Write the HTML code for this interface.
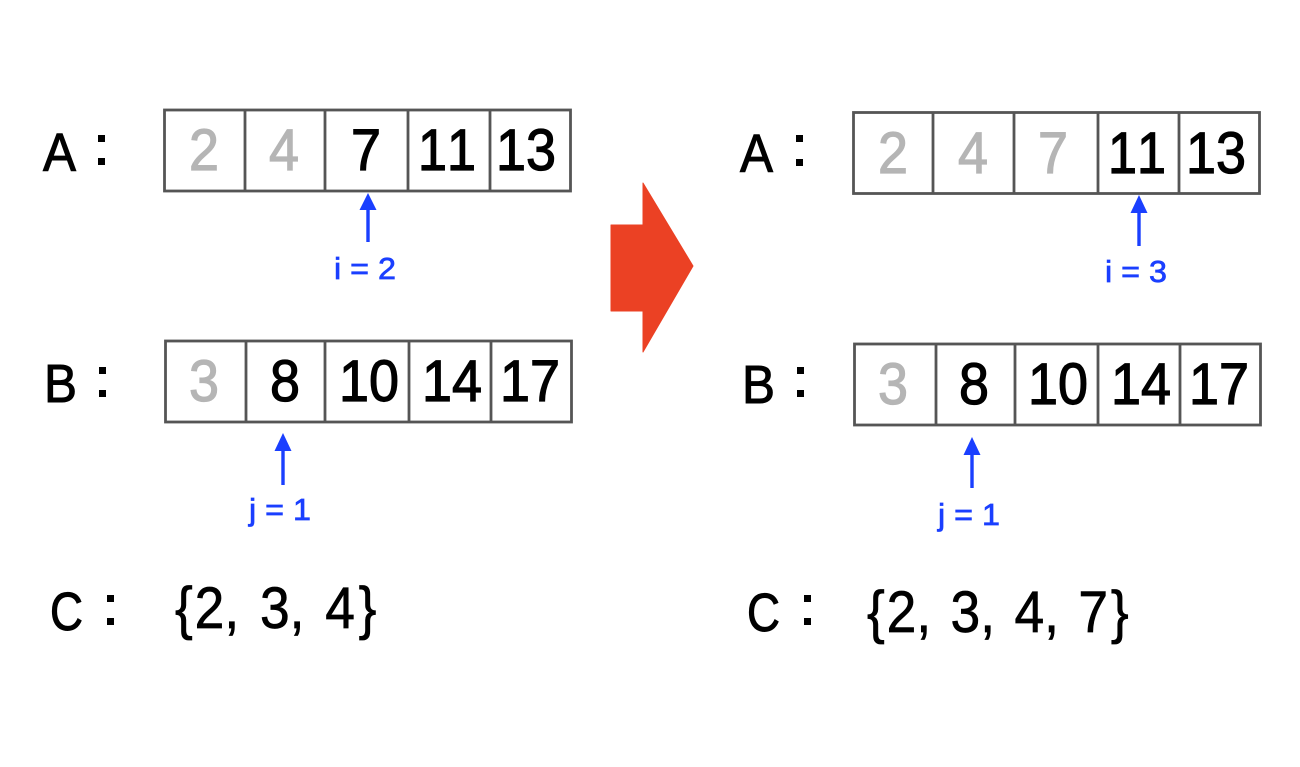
<!DOCTYPE html>
<html><head><meta charset="utf-8"><style>
html,body{margin:0;padding:0;background:#fff;width:1300px;height:767px;overflow:hidden}
svg{display:block}
text{font-family:"Liberation Sans",sans-serif;font-kerning:none}
.n{font-size:58px;text-anchor:middle;fill:#000;stroke:#000;stroke-width:1.2px}
.g{font-size:58px;text-anchor:middle;fill:#b5b5b5;stroke:#b5b5b5;stroke-width:1.2px}
.l{font-size:54px;fill:#000;stroke:#000;stroke-width:1px}
.b{font-size:31px;text-anchor:middle;fill:#1a3fff;stroke:#1a3fff;stroke-width:.7px}
.s{font-size:58px;fill:#000;stroke:#000;stroke-width:.7px;word-spacing:6.5px}
rect.box,line.d{fill:none;stroke:#555;stroke-width:2.8}
line.a{stroke:#1a3fff;stroke-width:3.4}
polygon.h{fill:#1a3fff}
rect.c{fill:#000}
</style></head><body>
<svg width="1300" height="767" viewBox="0 0 1300 767" xmlns="http://www.w3.org/2000/svg">
<rect width="1300" height="767" fill="#fff"/>

<!-- left A -->
<rect class="box" x="164.500" y="110" width="406" height="81"/>
<line class="d" x1="245" y1="110" x2="245" y2="191"/><line class="d" x1="325" y1="110" x2="325" y2="191"/><line class="d" x1="408" y1="110" x2="408" y2="191"/><line class="d" x1="490" y1="110" x2="490" y2="191"/>
<text class="g" x="204" y="170" textLength="30" lengthAdjust="spacingAndGlyphs">2</text><text class="g" x="284" y="170" textLength="30" lengthAdjust="spacingAndGlyphs">4</text><text class="n" x="366" y="170" textLength="30" lengthAdjust="spacingAndGlyphs">7</text><text class="n" x="447" y="170" textLength="58" lengthAdjust="spacingAndGlyphs">11</text><text class="n" x="526" y="170" textLength="60" lengthAdjust="spacingAndGlyphs">13</text>
<text class="l" x="43" y="171" textLength="33" lengthAdjust="spacingAndGlyphs">A</text>
<rect class="c" x="98" y="135" width="7" height="7"/><rect class="c" x="98" y="158" width="7" height="7"/>
<line class="a" x1="368" y1="242" x2="368" y2="205"/><polygon class="h" points="368,193 359.500,210 376.500,210"/>
<text class="b" x="365" y="279" textLength="62" lengthAdjust="spacingAndGlyphs">i = 2</text>

<!-- left B -->
<rect class="box" x="165.500" y="341" width="406" height="81"/>
<line class="d" x1="246" y1="341" x2="246" y2="422"/><line class="d" x1="325" y1="341" x2="325" y2="422"/><line class="d" x1="409" y1="341" x2="409" y2="422"/><line class="d" x1="491" y1="341" x2="491" y2="422"/>
<text class="g" x="204" y="401" textLength="30" lengthAdjust="spacingAndGlyphs">3</text><text class="n" x="285" y="401" textLength="30" lengthAdjust="spacingAndGlyphs">8</text><text class="n" x="369" y="401" textLength="60" lengthAdjust="spacingAndGlyphs">10</text><text class="n" x="452" y="401" textLength="60" lengthAdjust="spacingAndGlyphs">14</text><text class="n" x="530" y="401" textLength="60" lengthAdjust="spacingAndGlyphs">17</text>
<text class="l" x="44" y="402" textLength="33" lengthAdjust="spacingAndGlyphs">B</text>
<rect class="c" x="99" y="367" width="7" height="7"/><rect class="c" x="99" y="390" width="7" height="7"/>
<line class="a" x1="283" y1="485" x2="283" y2="445"/><polygon class="h" points="283,433 274.500,451 291.500,451"/>
<text class="b" x="280" y="520" textLength="62" lengthAdjust="spacingAndGlyphs">j = 1</text>

<!-- left C -->
<text class="l" x="50" y="630" textLength="33" lengthAdjust="spacingAndGlyphs">C</text>
<rect class="c" x="107" y="595" width="7" height="7"/><rect class="c" x="107" y="618" width="7" height="7"/>
<text class="s" transform="translate(175,628) scale(.92,1)">{<tspan dx="2">2, 3, 4</tspan><tspan dx="4">}</tspan></text>

<!-- arrow -->
<polygon points="611,225 643,225 643,183 693,266 643,352 643,311 611,311" fill="#eb4124" stroke="#eb4124" stroke-width="1" stroke-linejoin="round"/>

<!-- right A -->
<rect class="box" x="853.500" y="112.500" width="406" height="81"/>
<line class="d" x1="933" y1="112" x2="933" y2="193"/><line class="d" x1="1014" y1="112" x2="1014" y2="193"/><line class="d" x1="1098" y1="112" x2="1098" y2="193"/><line class="d" x1="1179" y1="112" x2="1179" y2="193"/>
<text class="g" x="893" y="173" textLength="30" lengthAdjust="spacingAndGlyphs">2</text><text class="g" x="973" y="173" textLength="30" lengthAdjust="spacingAndGlyphs">4</text><text class="g" x="1053" y="173" textLength="30" lengthAdjust="spacingAndGlyphs">7</text><text class="n" x="1137" y="173" textLength="58" lengthAdjust="spacingAndGlyphs">11</text><text class="n" x="1216" y="173" textLength="60" lengthAdjust="spacingAndGlyphs">13</text>
<text class="l" x="740" y="172" textLength="33" lengthAdjust="spacingAndGlyphs">A</text>
<rect class="c" x="796" y="135" width="7" height="7"/><rect class="c" x="796" y="159" width="7" height="7"/>
<line class="a" x1="1139" y1="246" x2="1139" y2="208"/><polygon class="h" points="1139,195 1130.500,213 1147.500,213"/>
<text class="b" x="1136" y="282" textLength="62" lengthAdjust="spacingAndGlyphs">i = 3</text>

<!-- right B -->
<rect class="box" x="854.500" y="344" width="406" height="81"/>
<line class="d" x1="936" y1="344" x2="936" y2="425"/><line class="d" x1="1015" y1="344" x2="1015" y2="425"/><line class="d" x1="1098" y1="344" x2="1098" y2="425"/><line class="d" x1="1180" y1="344" x2="1180" y2="425"/>
<text class="g" x="893" y="404" textLength="30" lengthAdjust="spacingAndGlyphs">3</text><text class="n" x="974" y="404" textLength="30" lengthAdjust="spacingAndGlyphs">8</text><text class="n" x="1058" y="404" textLength="60" lengthAdjust="spacingAndGlyphs">10</text><text class="n" x="1141" y="404" textLength="60" lengthAdjust="spacingAndGlyphs">14</text><text class="n" x="1219" y="404" textLength="60" lengthAdjust="spacingAndGlyphs">17</text>
<text class="l" x="742" y="403" textLength="33" lengthAdjust="spacingAndGlyphs">B</text>
<rect class="c" x="797" y="367" width="7" height="7"/><rect class="c" x="797" y="390" width="7" height="7"/>
<line class="a" x1="972" y1="488" x2="972" y2="450"/><polygon class="h" points="972,437 963.500,455 980.500,455"/>
<text class="b" x="969" y="525" textLength="62" lengthAdjust="spacingAndGlyphs">j = 1</text>

<!-- right C -->
<text class="l" x="747" y="631" textLength="33" lengthAdjust="spacingAndGlyphs">C</text>
<rect class="c" x="804" y="595" width="7" height="7"/><rect class="c" x="804" y="618" width="7" height="7"/>
<text class="s" style="word-spacing:5px" transform="translate(867,632) scale(.92,1)">{<tspan dx="2">2, 3, 4, 7</tspan><tspan dx="3">}</tspan></text>
</svg>
</body></html>
